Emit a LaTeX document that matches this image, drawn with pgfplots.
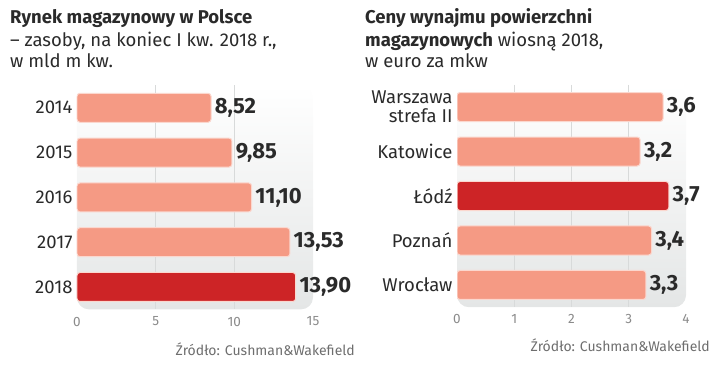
\documentclass[border=0pt]{standalone}
\usepackage{fontspec}
\setmainfont{Fira Sans}
\usepackage{pgfplots}
\pgfplotsset{compat=1.18}
\definecolor{salmon}{HTML}{F59A84}
\definecolor{darkred}{HTML}{CD2426}
\definecolor{txt}{HTML}{2A2A2A}
\definecolor{tickc}{HTML}{8A8A8A}
\definecolor{gridc}{HTML}{D8DADA}
\definecolor{panel}{HTML}{E4E6E6}
\pgfplotsset{
 mystyle/.style={
  scale only axis, xbar, bar width=29pt, bar shift=0pt,
  y dir=reverse, ymin=-0.5, ymax=4.5, ytick={0,...,4},
  axis line style={draw=none}, major tick length=0pt,
  axis background/.style={top color=white, bottom color=panel, rounded corners=12pt, draw=none},
  xticklabel style={font=\fontsize{13.5}{15}\selectfont, tickc, yshift=-4pt},
  yticklabel style={font=\fontsize{18.5}{19}\selectfont, txt, align=right, xshift=-1pt},
  /pgf/number format/assume math mode=true,
  point meta=x,
  nodes near coords style={font=\bfseries\fontsize{22}{22}\selectfont, txt, anchor=west, xshift=0pt},
  extra x tick style={grid=major, major grid style={gridc, line width=0.8pt}},
  extra x tick labels={},
  every axis plot/.append style={draw=salmon!40!white, line width=1pt, rounded corners=3pt},
 }
}
\begin{document}
\begin{tikzpicture}
\useasboundingbox (0pt,0pt) rectangle (720pt,374pt);
% left chart
\node[anchor=base west, inner sep=0pt, font=\bfseries\fontsize{18.5}{20}\selectfont, txt] at (10pt,350pt) {Rynek magazynowy w Polsce};
\node[anchor=base west, inner sep=0pt, font=\fontsize{18.5}{20}\selectfont, txt] at (10pt,327pt) {– zasoby, na koniec I kw. 2018 r.,};
\node[anchor=base west, inner sep=0pt, font=\fontsize{18.5}{20}\selectfont, txt] at (10pt,306pt) {w mld m kw.};
\begin{axis}[mystyle, at={(77pt,64.6pt)}, anchor=south west, width=236pt, height=224pt,
  xmin=0, xmax=15, xtick={0,5,10,15}, extra x ticks={5,10},
  yticklabels={2014,2015,2016,2017,2018},
  nodes near coords={\pgfmathprintnumber[fixed,zerofill,precision=2,use comma]{\pgfplotspointmeta}}]
\addplot[fill=salmon] coordinates {(8.52,0) (9.85,1) (11.10,2) (13.53,3)};
\addplot[fill=darkred] coordinates {(13.90,4)};
\end{axis}
\node[anchor=base east, inner sep=0pt, font=\fontsize{14}{15}\selectfont, tickc!80!black] at (355pt,18pt) {Źródło: Cushman\&Wakefield};
% right chart
\node[anchor=base west, inner sep=0pt, font=\bfseries\fontsize{18.5}{20}\selectfont, txt] at (365pt,350pt) {Ceny wynajmu powierzchni};
\node[anchor=base west, inner sep=0pt, font=\fontsize{18.5}{20}\selectfont, txt] at (365pt,327pt) {\textbf{magazynowych} wiosną 2018,};
\node[anchor=base west, inner sep=0pt, font=\fontsize{18.5}{20}\selectfont, txt] at (365pt,306pt) {w euro za mkw};
\begin{axis}[mystyle, at={(457pt,66.75pt)}, anchor=south west, width=229pt, height=222.5pt,
  xmin=0, xmax=4, xtick={0,1,2,3,4}, extra x ticks={1,2,3},
  yticklabels={{Warszawa\\strefa II},Katowice,Łódź,Poznań,Wrocław},
  nodes near coords={\pgfmathprintnumber[fixed,zerofill,precision=1,use comma]{\pgfplotspointmeta}}]
\addplot[fill=salmon] coordinates {(3.6,0) (3.2,1)};
\addplot[fill=darkred] coordinates {(3.7,2)};
\addplot[fill=salmon] coordinates {(3.4,3) (3.3,4)};
\end{axis}
\node[anchor=base east, inner sep=0pt, font=\fontsize{14}{15}\selectfont, tickc!80!black] at (710pt,22pt) {Źródło: Cushman\&Wakefield};
\end{tikzpicture}
\end{document}
